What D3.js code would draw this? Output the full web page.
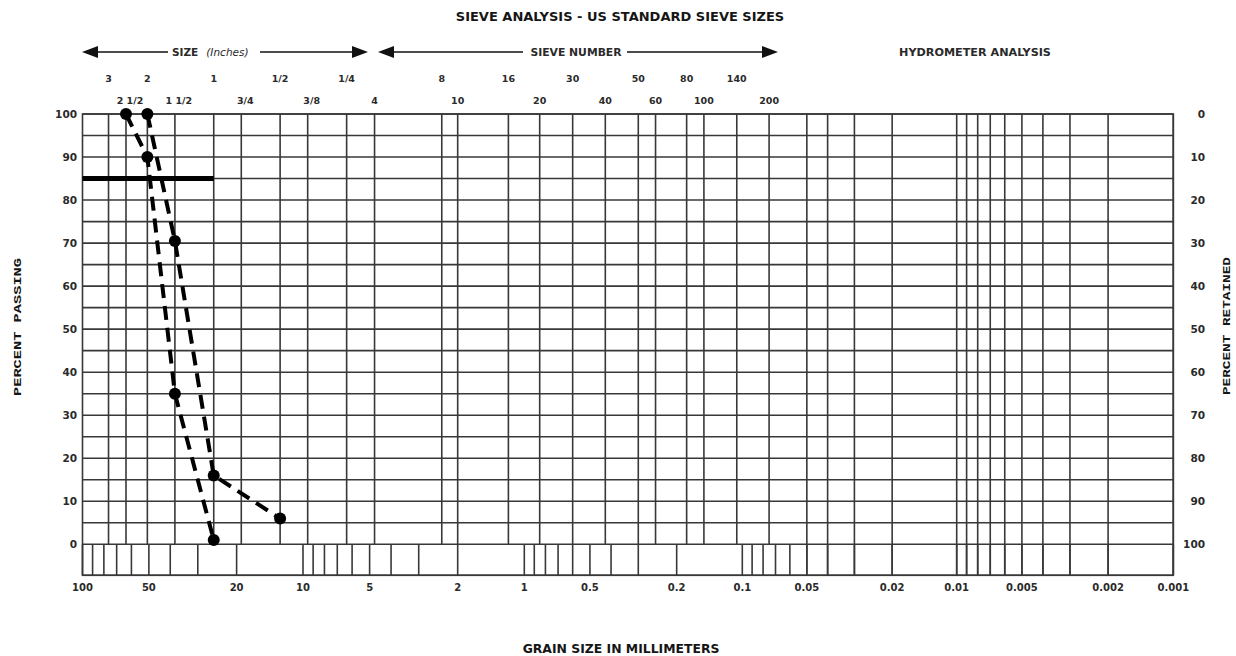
<!DOCTYPE html>
<html>
<head>
<meta charset="utf-8">
<script src="https://cdn.jsdelivr.net/npm/d3@7"></script>
<style>
  html, body { margin: 0; padding: 0; background: #fff; }
  svg { display: block; font-family: "DejaVu Sans", "Liberation Sans", sans-serif; }
</style>
</head>
<body>
<svg id="chart" width="1236" height="656"></svg>
<script>
// ---- US standard sieve openings (mm) and their printed names ----
const inchSizes  = [76.2, 63.5, 50.8, 38.1, 25.4, 19.05, 12.7, 9.525, 6.35];
const inchLabels = ["3", "2 1/2", "2", "1 1/2", "1", "3/4", "1/2", "3/8", "1/4"];
const inchRows   = [0, 1, 0, 1, 0, 1, 0, 1, 0];

const sieveSizes  = [4.75, 2.36, 2.0, 1.18, 0.85, 0.6, 0.425, 0.3, 0.25, 0.18, 0.15, 0.106, 0.075];
const sieveLabels = ["4", "8", "10", "16", "20", "30", "40", "50", "60", "80", "100", "140", "200"];
const sieveRows   = [1, 0, 1, 0, 1, 0, 1, 0, 1, 0, 1, 0, 1];

// ---- grain size axis (mm) ----
const grainTicks  = [100, 50, 20, 10, 5, 2, 1, 0.5, 0.2, 0.1, 0.05, 0.02, 0.01, 0.005, 0.002, 0.001];
const grainLabels = ["100", "50", "20", "10", "5", "2", "1", "0.5", "0.2", "0.1", "0.05", "0.02", "0.01", "0.005", "0.002", "0.001"];
const decades     = [100, 10, 1, 0.1, 0.01, 0.001];

// ---- percent axes ----
const percentTicks = [0, 10, 20, 30, 40, 50, 60, 70, 80, 90, 100];
const gridPercents = d3.range(0, 101, 5);

// ---- gradation curves: sieve opening (mm) vs percent passing ----
const sampleASizes   = [63.5, 50.8, 38.1, 25.4];
const sampleAPassing = [100, 90, 35, 1];
const sampleBSizes   = [50.8, 38.1, 25.4, 12.7];
const sampleBPassing = [100, 70.5, 16, 6];

// ---- 85 % passing limit line, from 100 mm down to 1 inch ----
const limitSizes   = [100, 25.4];
const limitPassing = [85, 85];

// ---------------------------------------------------------------
const svg = d3.select("#chart");

const x = d3.scaleLog()
  .domain(decades)
  .range([82.5, 303, 524.3, 742.3, 956.7, 1173.3]);
const y = d3.scaleLinear().domain([0, 100]).range([544.3, 114]);

const gridLeft = x(100), gridRight = x(0.001);
const gridTop = y(100), zeroY = y(0), stripBottom = zeroY + 31;

const gridColor = "#383838";
const grid = svg.append("g").attr("stroke", gridColor).attr("stroke-width", 1.6).attr("fill", "none");

// horizontal grid every 5 %
grid.selectAll("line.h").data(gridPercents).join("line")
  .attr("x1", gridLeft).attr("x2", gridRight)
  .attr("y1", d => y(d)).attr("y2", d => y(d));
grid.append("line").attr("x1", gridLeft).attr("x2", gridRight)
  .attr("y1", stripBottom).attr("y2", stripBottom);

// sieve lines through the percent grid
grid.selectAll("line.s").data(inchSizes.concat(sieveSizes)).join("line")
  .attr("x1", d => x(d)).attr("x2", d => x(d))
  .attr("y1", gridTop).attr("y2", zeroY);

// regular log ticks in the strip under the grid
const logTicks = x.ticks();
grid.selectAll("line.t").data(logTicks).join("line")
  .attr("x1", d => x(d)).attr("x2", d => x(d))
  .attr("y1", zeroY).attr("y2", stripBottom);

// hydrometer range: full height log lines
grid.selectAll("line.hy").data(logTicks.filter(d => d <= 0.0501)).join("line")
  .attr("x1", d => x(d)).attr("x2", d => x(d))
  .attr("y1", gridTop).attr("y2", stripBottom);

// frame
grid.append("rect").attr("x", gridLeft).attr("y", gridTop)
  .attr("width", gridRight - gridLeft).attr("height", stripBottom - gridTop);

// ---- text ----
const textColor = "#2a2a2a";
function label(g, txt, px, py, opts = {}) {
  return g.append("text").attr("x", px).attr("y", py)
    .attr("text-anchor", opts.anchor || "middle")
    .attr("dominant-baseline", "central")
    .attr("font-size", opts.size || 10)
    .attr("font-weight", opts.weight || "bold")
    .attr("fill", opts.fill || textColor)
    .text(txt);
}
const texts = svg.append("g");

label(texts, "SIEVE ANALYSIS - US STANDARD SIEVE SIZES", 620, 16, { size: 13, fill: "#151515" });

// sieve names above the grid
inchSizes.forEach((d, i) => label(texts, inchLabels[i], x(d) + (inchRows[i] ? 4 : 0), inchRows[i] ? 100 : 78, { size: 9.5 }));
sieveSizes.forEach((d, i) => label(texts, sieveLabels[i], x(d), sieveRows[i] ? 100 : 78, { size: 9.5 }));

// grain size labels
grainTicks.forEach((d, i) => label(texts, grainLabels[i], x(d), 587, { size: 10 }));

// percent passing (left) and retained (right)
percentTicks.forEach(d => {
  label(texts, String(d), 77, y(d), { size: 10.5, anchor: "end" });
  label(texts, String(100 - d), 1205, y(d), { size: 10.5, anchor: "end" });
});

label(texts, "GRAIN SIZE IN MILLIMETERS", 621, 648, { size: 12.4, fill: "#151515" });

const mono = { size: 11.5, fill: "#151515" };
label(texts, "PERCENT PASSING", 0, 0, mono)
  .attr("font-family", "Liberation Mono, monospace")
  .attr("textLength", 138).attr("lengthAdjust", "spacingAndGlyphs")
  .attr("transform", "translate(17,327) rotate(-90)");
label(texts, "PERCENT RETAINED", 0, 0, mono)
  .attr("font-family", "Liberation Mono, monospace")
  .attr("textLength", 138).attr("lengthAdjust", "spacingAndGlyphs")
  .attr("transform", "translate(1226,326) rotate(-90)");

// ---- range arrows ----
const arrowY = 52;
const arrows = svg.append("g").attr("stroke", "#111").attr("fill", "#111");
function arrowSpan(x0, x1, gap0, gap1) {
  arrows.append("line").attr("x1", x0 + 12).attr("x2", gap0).attr("y1", arrowY).attr("y2", arrowY).attr("stroke-width", 1.6);
  arrows.append("line").attr("x1", gap1).attr("x2", x1 - 12).attr("y1", arrowY).attr("y2", arrowY).attr("stroke-width", 1.6);
  arrows.append("path").attr("stroke", "none")
    .attr("d", `M${x0},${arrowY} L${x0 + 16},${arrowY - 6} L${x0 + 16},${arrowY + 6} Z`);
  arrows.append("path").attr("stroke", "none")
    .attr("d", `M${x1},${arrowY} L${x1 - 16},${arrowY - 6} L${x1 - 16},${arrowY + 6} Z`);
}
arrowSpan(82, 368, 168, 260);
arrowSpan(378, 778, 523, 627);

const sizeText = texts.append("text").attr("x", 172).attr("y", arrowY)
  .attr("dominant-baseline", "central").attr("font-size", 10.5).attr("font-weight", "bold")
  .attr("fill", textColor);
sizeText.append("tspan").text("SIZE");
sizeText.append("tspan").attr("dx", 8).attr("font-style", "italic").attr("font-weight", "normal").text("(Inches)");
label(texts, "SIEVE NUMBER", 576, arrowY, { size: 10.8 });
label(texts, "HYDROMETER ANALYSIS", 975, arrowY, { size: 11.2 });

// ---- curves ----
const line = d3.line().x(d => x(d[0])).y(d => y(d[1]));
const marks = svg.append("g");

marks.append("path")
  .attr("d", line(d3.zip(limitSizes, limitPassing)))
  .attr("stroke", "#000").attr("stroke-width", 5).attr("fill", "none");

[[sampleASizes, sampleAPassing], [sampleBSizes, sampleBPassing]].forEach(([sz, pc]) => {
  const pts = d3.zip(sz, pc);
  marks.append("path")
    .attr("d", line(pts))
    .attr("stroke", "#000").attr("stroke-width", 4)
    .attr("stroke-dasharray", "14,8").attr("fill", "none");
  marks.selectAll(null).data(pts).join("circle")
    .attr("cx", d => x(d[0])).attr("cy", d => y(d[1])).attr("r", 6).attr("fill", "#000");
});
</script>
</body>
</html>
